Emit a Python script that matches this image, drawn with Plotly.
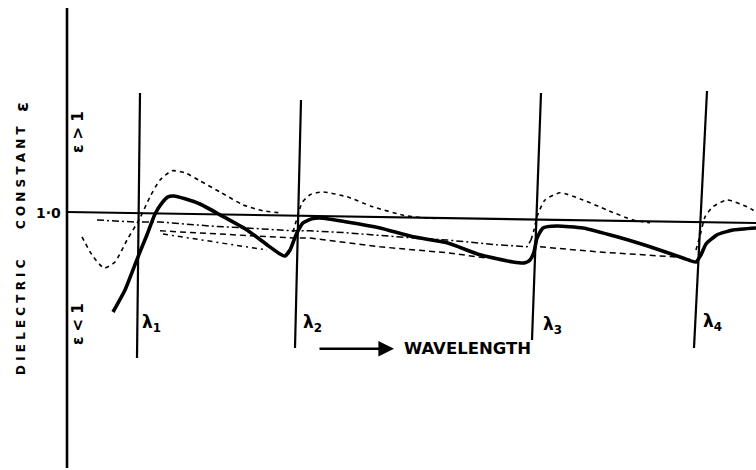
import plotly.graph_objects as go

# Wavelength (arbitrary units) and dielectric constant (schematic values)
total_x = [113, 125, 138, 147, 155, 162, 168, 174, 185, 200, 220, 247, 267, 280, 285, 290, 294, 297, 303, 312,
           320, 347, 380, 413, 447, 480, 513, 525, 530, 534, 537, 543, 557, 583, 617, 650, 683, 696, 701, 706,
           717, 733, 756]
total_eps = [0.750, 0.805, 0.888, 0.943, 0.995, 1.023, 1.038, 1.040, 1.033, 1.020, 0.993, 0.955, 0.918, 0.895,
             0.890, 0.905, 0.930, 0.948, 0.973, 0.983, 0.985, 0.975, 0.960, 0.938, 0.923, 0.893, 0.875, 0.873,
             0.880, 0.900, 0.935, 0.960, 0.965, 0.960, 0.938, 0.913, 0.885, 0.875, 0.893, 0.920, 0.943, 0.955,
             0.960]

# short-dashed curve (band contributions with overshoot)
dot_x = [82, 92, 104, 115, 127, 140, 150, 160, 172, 185, 200, 220, 243, 263, 280, None,
         293, 298, 302, 310, 323, 347, 373, 407, 440, None,
         531, 534, 537, 545, 560, 583, 607, 633, 650, None,
         696, 701, 705, 713, 727, 747, 756]
dot_eps = [0.938, 0.893, 0.860, 0.875, 0.930, 0.985, 1.038, 1.080, 1.103, 1.098, 1.078, 1.050, 1.018, 1.003,
           0.998, None,
           0.950, 0.993, 1.023, 1.043, 1.050, 1.038, 1.013, 0.990, 0.983, None,
           0.930, 0.955, 0.988, 1.030, 1.048, 1.030, 1.005, 0.980, 0.973, None,
           0.905, 0.950, 0.988, 1.013, 1.030, 1.013, 1.000]

# dash-dot baseline
la_x = [97, 120, 135, 160, 210, 260, 293, 310, 347, 397, 447, 497, 527, 531]
la_eps = [0.980, 0.978, 0.975, 0.975, 0.965, 0.958, 0.953, 0.953, 0.948, 0.938, 0.930, 0.918, 0.913, 0.930]

# dashed baselines
lb_x = [160, 230, 293, 310, 380, 447, 487]
lb_eps = [0.953, 0.943, 0.935, 0.935, 0.913, 0.898, 0.885]
lc_x = [163, 215, 267]
lc_eps = [0.945, 0.925, 0.905]
ld_x = [540, 600, 673, 690]
ld_eps = [0.913, 0.900, 0.888, 0.883]

# absorption wavelengths (vertical markers, as drawn)
lam_labels = ["λ<sub>1</sub>", "λ<sub>2</sub>", "λ<sub>3</sub>", "λ<sub>4</sub>"]
lam_top_x = [140, 301, 541, 707]
lam_bot_x = [137, 295, 532, 694]
lam_top_eps = [1.2975, 1.280, 1.2975, 1.3025]
lam_bot_eps = [0.635, 0.660, 0.680, 0.660]
lam_lab_x = [151, 312, 552, 712]
lam_lab_eps = [0.7225, 0.7225, 0.7175, 0.725]

# reference lines
axis_x = [67, 67]
axis_eps = [1.51, 0.36]
unity_x = [67, 756]
unity_eps = [1.0, 0.9725]

fig = go.Figure()
black = "#000000"

fig.add_trace(go.Scatter(x=axis_x, y=axis_eps, mode="lines", line=dict(color=black, width=2.6)))
fig.add_trace(go.Scatter(x=unity_x, y=unity_eps, mode="lines", line=dict(color=black, width=2.2)))
for tx, bx, te, be in zip(lam_top_x, lam_bot_x, lam_top_eps, lam_bot_eps):
    fig.add_trace(go.Scatter(x=[tx, bx], y=[te, be], mode="lines", line=dict(color=black, width=2.2)))

fig.add_trace(go.Scatter(x=la_x, y=la_eps, mode="lines",
                         line=dict(color=black, width=1.5, dash="7px,3px,2px,3px")))
fig.add_trace(go.Scatter(x=lb_x, y=lb_eps, mode="lines",
                         line=dict(color=black, width=1.5, dash="6px,4px")))
fig.add_trace(go.Scatter(x=lc_x, y=lc_eps, mode="lines",
                         line=dict(color=black, width=1.5, dash="5px,4px,2px,4px")))
fig.add_trace(go.Scatter(x=ld_x, y=ld_eps, mode="lines",
                         line=dict(color=black, width=1.5, dash="6px,4px")))
fig.add_trace(go.Scatter(x=dot_x, y=dot_eps, mode="lines", connectgaps=False,
                         line=dict(color=black, width=1.6, dash="4px,4px", shape="spline", smoothing=0.6)))
fig.add_trace(go.Scatter(x=total_x, y=total_eps, mode="lines",
                         line=dict(color=black, width=3.6, shape="spline", smoothing=0.5)))

ann = []
fnt = dict(family="DejaVu Sans", color=black)
ann.append(dict(x=21, y=1.2625, text="ε", textangle=-90, font=dict(size=18, weight="bold", **fnt)))
ann.append(dict(x=21, y=1.085, text="C O N S T A N T", textangle=-90, font=dict(size=12, weight="bold", **fnt)))
ann.append(dict(x=21, y=0.7375, text="D I E L E C T R I C", textangle=-90,
                font=dict(size=12, weight="bold", **fnt)))
ann.append(dict(x=48, y=0.9975, text="1·0", font=dict(size=14, weight="bold", **fnt)))
ann.append(dict(x=78, y=1.20, text="ε > 1", textangle=-90, font=dict(size=15, weight="bold", **fnt)))
ann.append(dict(x=78, y=0.72, text="ε < 1", textangle=-90, font=dict(size=15, weight="bold", **fnt)))
for lx, le, lt in zip(lam_lab_x, lam_lab_eps, lam_labels):
    ann.append(dict(x=lx, y=le, text=lt, font=dict(size=17, weight="bold", **fnt)))
ann.append(dict(x=467, y=0.66, text="WAVELENGTH", font=dict(size=16.5, weight="bold", **fnt)))
ann.append(dict(x=394, y=0.658, ax=318, ay=0.658, axref="x", ayref="y", text="", showarrow=True,
                arrowhead=2, arrowsize=1.2, arrowwidth=2.6, arrowcolor=black))
for a in ann:
    a.setdefault("showarrow", False)
    a["xref"] = "x"
    a["yref"] = "y"

fig.update_layout(
    width=756, height=470,
    margin=dict(l=0, r=0, t=0, b=0),
    paper_bgcolor="white", plot_bgcolor="white",
    showlegend=False,
    xaxis=dict(range=[0, 756], visible=False),
    yaxis=dict(range=[0.355, 1.53], visible=False),
    annotations=ann,
)

fig.write_html("out.html", config={"displayModeBar": False},
               post_script="document.body.style.margin='0px';document.body.style.padding='0px';")
